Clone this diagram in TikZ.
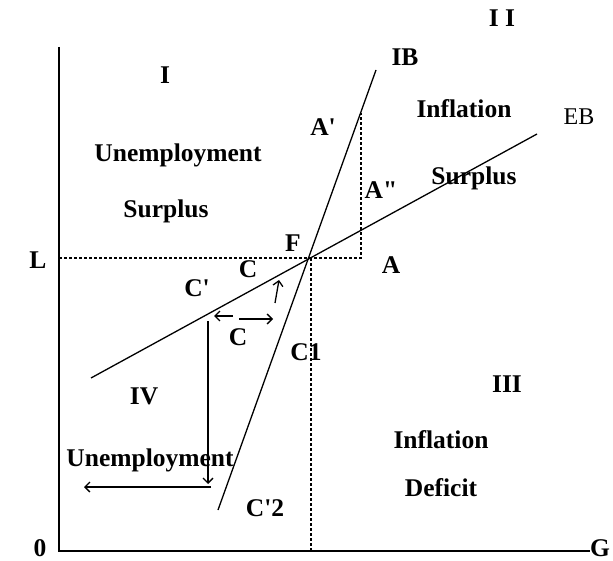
\documentclass[tikz,border=0pt]{standalone}
\usepackage{fontspec}
\setmainfont{Liberation Serif}[Ligatures=TeXOff]
\usetikzlibrary{arrows.meta}
\begin{document}
\begin{tikzpicture}[x=1pt,y=-1pt,
  lab/.style={font=\fontsize{25.5}{27}\selectfont\bfseries, inner sep=0pt},
  labn/.style={font=\fontsize{24}{26}\selectfont, inner sep=0pt},
  axis/.style={line width=1.6pt},
  curve/.style={line width=1.3pt},
  dsh/.style={line width=1.3pt, dash pattern=on 3pt off 2pt},
  arr/.style={line width=1.3pt, -{Straight Barb[length=5pt,width=10pt,line width=1.3pt]}}]
\useasboundingbox (0,0) rectangle (613,561);
% coordinates
\coordinate (O) at (59,551);
\coordinate (Ytop) at (59,47);
\coordinate (Xend) at (590,551);
\coordinate (F) at (311,258);
\coordinate (Lst) at (59,258);
\coordinate (Ad) at (361,258);
\coordinate (Ap) at (361,113);
\coordinate (Fb) at (311,551);
\coordinate (IB1) at (218,510);
\coordinate (IB2) at (376,70);
\coordinate (EB1) at (91,378);
\coordinate (EB2) at (537,134);
\coordinate (V1) at (208,321);
\coordinate (V2) at (208,484);
\coordinate (H1) at (211,487);
\coordinate (H2) at (84,487);
\coordinate (s1a) at (233,316);
\coordinate (s1b) at (214,316);
\coordinate (s2a) at (239,319);
\coordinate (s2b) at (273,319);
\coordinate (s3a) at (275,303);
\coordinate (s3b) at (279,280);
% axes
\draw[axis] (Ytop) -- (O) -- (Xend);
% dashed
\draw[dsh] (Lst) -- (F) -- (Ad) -- (Ap);
\draw[dsh] (F) -- (Fb);
% lines
\draw[curve] (IB1) -- (IB2);
\draw[curve] (EB1) -- (EB2);
% arrows
\draw[arr] (V1) -- (V2);
\draw[arr] (H1) -- (H2);
\draw[arr] (s1a) -- (s1b);
\draw[arr] (s2a) -- (s2b);
\draw[arr] (s3a) -- (s3b);
% labels
\node[lab] (zero) at (40,548) {0};
\node[lab] (G) at (600,548) {G};
\node[lab] (L) at (38,260) {L};
\node[lab] (I) at (165,75) {I};
\node[lab] (II) at (502,18) {I I};
\node[lab] (IB) at (405,57) {IB};
\node[lab] (Ap2) at (323,127) {A'};
\node[lab] (Inf1) at (464,109) {Inflation};
\node[labn] (EB) at (579,117) {EB};
\node[lab] (Un1) at (178,155) {Unemployment};
\node[lab] (Su1) at (166,211) {Surplus};
\node[lab] (App) at (381,190) {A"};
\node[lab] (Su2) at (474,178) {Surplus};
\node[lab] (Flab) at (293,243) {F};
\node[lab] (C1) at (248,269) {C};
\node[lab] (Alab) at (391,265) {A};
\node[lab] (Cp) at (197,288) {C'};
\node[lab] (C2) at (238,337) {C};
\node[lab] (Cone) at (306,352) {C1};
\node[lab] (IV) at (144,396) {IV};
\node[lab] (III) at (507,384) {III};
\node[lab] (Inf2) at (441,440) {Inflation};
\node[lab] (Un2) at (150,460) {Unemployment};
\node[lab] (Def) at (441,488) {Deficit};
\node[lab] (Cp2) at (265,508) {C'2};
\end{tikzpicture}
\end{document}
